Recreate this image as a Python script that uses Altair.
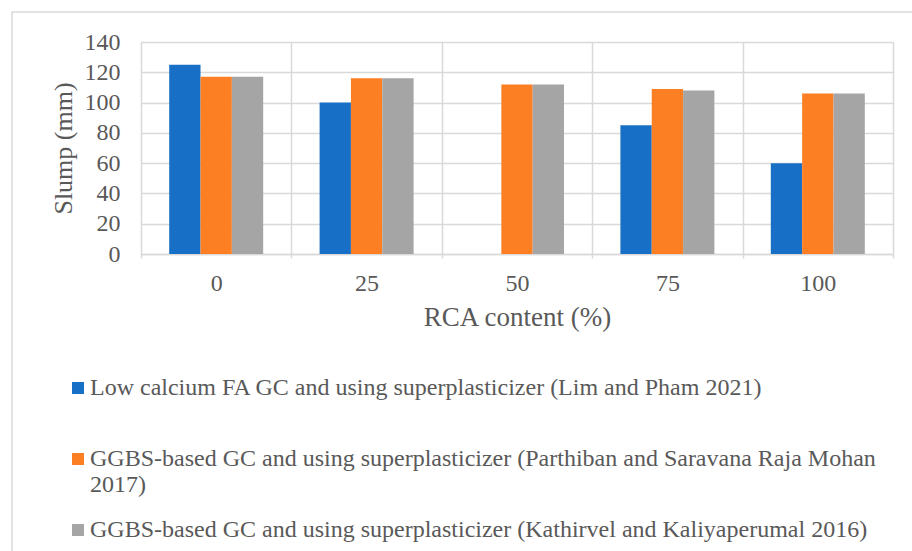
import altair as alt
import pandas as pd

# RCA replacement levels (%)
rca = ["0", "25", "50", "75", "100"]

series = [
    "Low calcium FA GC and using superplasticizer (Lim and Pham 2021)",
    "GGBS-based GC and using superplasticizer (Parthiban and Saravana Raja Mohan 2017)",
    "\u00a0GGBS-based GC and using superplasticizer (Kathirvel and Kaliyaperumal 2016)",
]

# Slump values (mm); no 50% mix reported by Lim and Pham
lim_pham = [125, 100, None, 85, 60]
parthiban = [117, 116, 112, 109, 106]
kathirvel = [117, 116, 112, 108, 106]

colors = ["#1870c6", "#fd7f24", "#a5a5a5"]

rows = []
for name, vals in zip(series, [lim_pham, parthiban, kathirvel]):
    for r, v in zip(rca, vals):
        if v is not None:
            rows.append({"rca": r, "series": name, "slump": v})
df = pd.DataFrame(rows)

FONT = "Liberation Serif"
TXT = "#595959"
GRID = "#d9d9d9"

# legend labels as line arrays: the second entry wraps before the year,
# the first carries an empty line so the rows space out evenly
label_expr = (
    "indexof(datum.label, 'Lim and Pham') > 0 ? [datum.label, ''] : "
    "indexof(datum.label, 'Mohan') > 0 ? "
    "[slice(datum.label, 0, indexof(datum.label, ' 2017)')), '2017)'] : datum.label"
)

bars = alt.Chart(df).mark_bar().encode(
    x=alt.X(
        "rca:N",
        sort=rca,
        scale=alt.Scale(paddingInner=0, paddingOuter=0),
        axis=alt.Axis(
            title="RCA content (%)",
            labelAngle=0,
            grid=True,
            gridColor=GRID,
            gridWidth=1.5,
            tickBand="extent",
            ticks=True,
            tickColor=GRID,
            tickSize=4,
            tickWidth=1.5,
            domainColor=GRID,
            domainWidth=1.5,
            labelFont=FONT,
            labelFontSize=24,
            labelColor=TXT,
            labelPadding=13,
            titleFont=FONT,
            titleFontSize=27,
            titleFontWeight="normal",
            titleColor=TXT,
            titlePadding=9,
        ),
    ),
    xOffset=alt.XOffset(
        "series:N", sort=series, scale=alt.Scale(paddingInner=0, paddingOuter=0.9)
    ),
    y=alt.Y(
        "slump:Q",
        scale=alt.Scale(domain=[0, 140], nice=False),
        axis=alt.Axis(
            title="Slump (mm)",
            values=[0, 20, 40, 60, 80, 100, 120, 140],
            grid=True,
            gridColor=GRID,
            gridWidth=1.5,
            domain=False,
            ticks=False,
            labelFont=FONT,
            labelFontSize=24,
            labelColor=TXT,
            labelPadding=21,
            titleFont=FONT,
            titleFontSize=26,
            titleFontWeight="normal",
            titleColor=TXT,
            titlePadding=8,
        ),
    ),
    color=alt.Color(
        "series:N",
        sort=series,
        scale=alt.Scale(domain=series, range=colors),
        legend=alt.Legend(
            title=None,
            orient="none",
            legendX=-75,
            legendY=334,
            direction="vertical",
            padding=0,
            symbolType="square",
            symbolSize=144,
            symbolStrokeWidth=0,
            labelOffset=0,
            labelFont=FONT,
            labelFontSize=24,
            labelColor=TXT,
            labelLimit=900,
            labelExpr=label_expr,
            rowPadding=21,
        ),
    ),
)

# light frame around the whole chart area
frame = alt.Chart(pd.DataFrame({"k": [0]})).mark_rect(
    fillOpacity=0, stroke=GRID, strokeWidth=1.5
).encode(
    x=alt.value(-129), x2=alt.value(790), y=alt.value(-30), y2=alt.value(520)
)

chart = (
    alt.layer(frame, bars)
    .properties(
        width=752,
        height=212,
        autosize=alt.AutoSizeParams(type="none"),
        padding={"left": 141, "top": 42, "right": 19, "bottom": 297},
        background="white",
    )
    .configure_view(stroke=GRID, strokeWidth=1.5)
    .configure(style={"guide-label": {"lineHeight": 26}})
)

chart.save("out.html", embed_options={"renderer": "svg", "actions": False})
